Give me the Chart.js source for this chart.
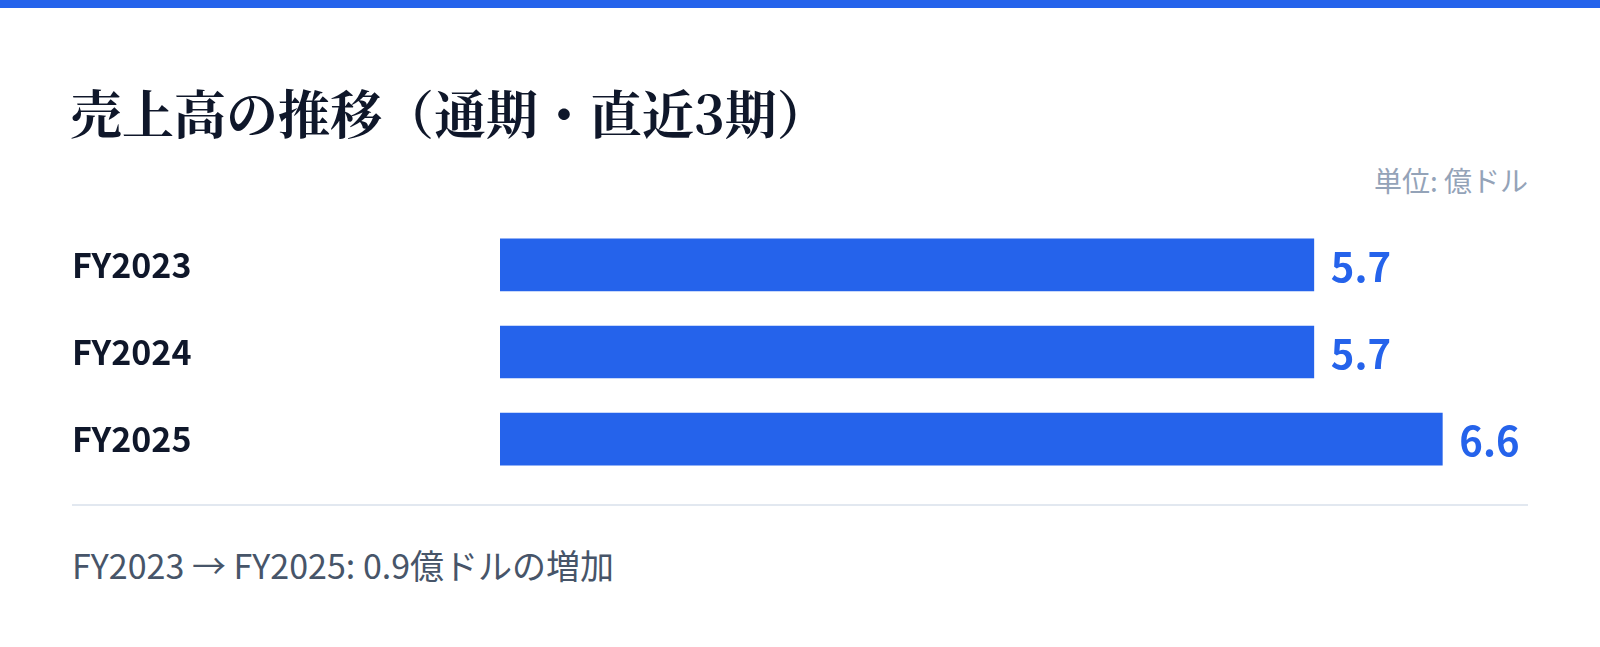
<!DOCTYPE html>
<html lang="ja">
<head>
<meta charset="utf-8">
<title>売上高の推移</title>
<script src="https://cdn.jsdelivr.net/npm/chart.js@4.4.1/dist/chart.umd.min.js"></script>
<style>
  html, body { margin: 0; padding: 0; background: #ffffff; }
  body { width: 1600px; height: 647px; position: relative; overflow: hidden;
         font-family: "Noto Sans CJK JP", "Noto Sans", sans-serif; }
  #topBar { position: absolute; left: 0; top: 0; width: 1600px; height: 8px; background: #2563eb; }
  #title { position: absolute; left: 70px; top: 86px; margin: 0;
           font-family: "Noto Serif CJK JP", serif; font-weight: 700;
           font-size: 52px; line-height: 52px; color: #0f172a; white-space: nowrap; }
  #unit { position: absolute; right: 72px; top: 166px; font-size: 28px; line-height: 28px;
          color: #94a3b8; white-space: nowrap; }
  #chartBox { position: absolute; left: 72px; top: 198px; width: 1456px; height: 308px; }
  #divider { position: absolute; left: 72px; top: 504px; width: 1456px; height: 2px; background: #e2e8f0; }
  #note { position: absolute; left: 72px; top: 548px; font-size: 34px; line-height: 34px;
          color: #475569; white-space: nowrap; }
</style>
</head>
<body>
<div id="topBar"></div>
<h1 id="title">売上高の推移（通期・直近3期）</h1>
<div id="unit">単位: 億ドル</div>
<div id="chartBox"><canvas id="salesChart"></canvas></div>
<div id="divider"></div>
<div id="note">FY2023 → FY2025: 0.9億ドルの増加</div>

<script>
// データ（億ドル）
const fiscalYears = ['FY2023', 'FY2024', 'FY2025'];
const revenue = [5.7, 5.7, 6.6];

const BAR_COLOR = '#2563eb';
const LABEL_COLOR = '#0f172a';

// バーの右側に数値を描く
const valueLabels = {
    id: 'valueLabels',
    afterDatasetsDraw(chart) {
        const ctx = chart.ctx;
        const meta = chart.getDatasetMeta(0);
        ctx.save();
        ctx.font = 'bold 40px "Noto Sans CJK JP", sans-serif';
        ctx.fillStyle = BAR_COLOR;
        ctx.textAlign = 'left';
        ctx.textBaseline = 'middle';
        meta.data.forEach((bar, i) => {
            ctx.fillText(revenue[i].toFixed(1), bar.x + 17, bar.y + 2);
        });
        ctx.restore();
    }
};

const ctx = document.getElementById('salesChart').getContext('2d');
new Chart(ctx, {
    type: 'bar',
    data: {
        labels: fiscalYears,
        datasets: [{
            data: revenue,
            backgroundColor: BAR_COLOR,
            borderWidth: 0,
            barThickness: 52
        }]
    },
    options: {
        indexAxis: 'y',
        responsive: true,
        maintainAspectRatio: false,
        animation: false,
        layout: { padding: 0 },
        scales: {
            x: {
                display: false,
                min: 0,
                max: 7.2
            },
            y: {
                grid: { display: false },
                border: { display: false },
                ticks: {
                    crossAlign: 'far',
                    color: LABEL_COLOR,
                    font: { family: '"Noto Sans CJK JP", sans-serif', size: 34, weight: 'bold' }
                },
                afterFit(scale) { scale.width = 428; } // バーは x=500 から
            }
        },
        plugins: {
            legend: { display: false },
            tooltip: { enabled: false }
        }
    },
    plugins: [valueLabels]
});
</script>
</body>
</html>
